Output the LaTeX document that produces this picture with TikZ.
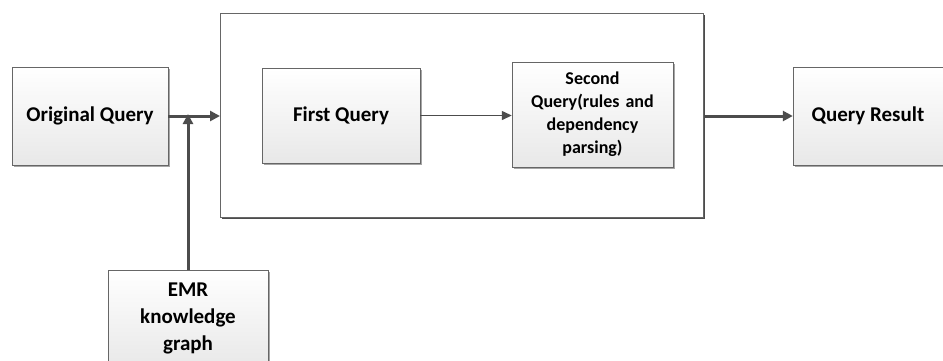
\documentclass[tikz,border=0pt]{standalone}
\usepackage{fontspec}
\setmainfont{Carlito}
\usetikzlibrary{arrows.meta,shadows}
\begin{document}
\begin{tikzpicture}[x=1pt,y=-1pt,
  qbox/.style={shape=rectangle,draw=gray!80!black,thin,top color=white,bottom color=gray!18,
    drop shadow={shadow xshift=2pt,shadow yshift=-2pt,fill=gray!70,opacity=1},
    align=center,font=\fontsize{21}{27}\selectfont\bfseries,inner sep=2pt},
  flow/.style={draw=black!70,line width=3pt,-{Triangle[length=10pt,width=10pt]}},
  thinflow/.style={draw=black!70,line width=1.3pt,-{Triangle[length=10pt,width=9pt]}}]
\useasboundingbox (0,0) rectangle (943,360);

% outer frame round the two query steps
\node[draw=gray!80!black,line width=1pt,minimum width=483pt,minimum height=204pt,
  drop shadow={shadow xshift=1.5pt,shadow yshift=-1.5pt,fill=black!70,opacity=1},fill=white]
  (frame) at (462,115) {};

\node[qbox,minimum width=156pt,minimum height=98pt] (orig) at (90,116) {Original Query};
\node[qbox,minimum width=158pt,minimum height=95pt] (first) at (341,115.5) {First Query};
\node[qbox,minimum width=161pt,minimum height=105pt,text width=150pt,
  font=\fontsize{18}{23}\selectfont\bfseries] (second) at (592.5,114.5)
  {Second\\Query(rules and\\dependency\\parsing)};
\node[qbox,minimum width=150pt,minimum height=98pt] (result) at (868,116) {Query Result};
\node[qbox,minimum width=160pt,inner ysep=13pt,anchor=north] (emr) at (188,270)
  {EMR\\knowledge\\graph};

\coordinate (join) at (emr.north |- orig.east);

\draw[flow] (orig.east) -- (frame.west |- orig.east);
\draw[flow] (emr.north) -- ([yshift=2pt]join);
\draw[thinflow] (first.east) -- (second.west |- first.east);
\draw[flow] (frame.east |- result.west) -- (result.west);
\end{tikzpicture}
\end{document}
